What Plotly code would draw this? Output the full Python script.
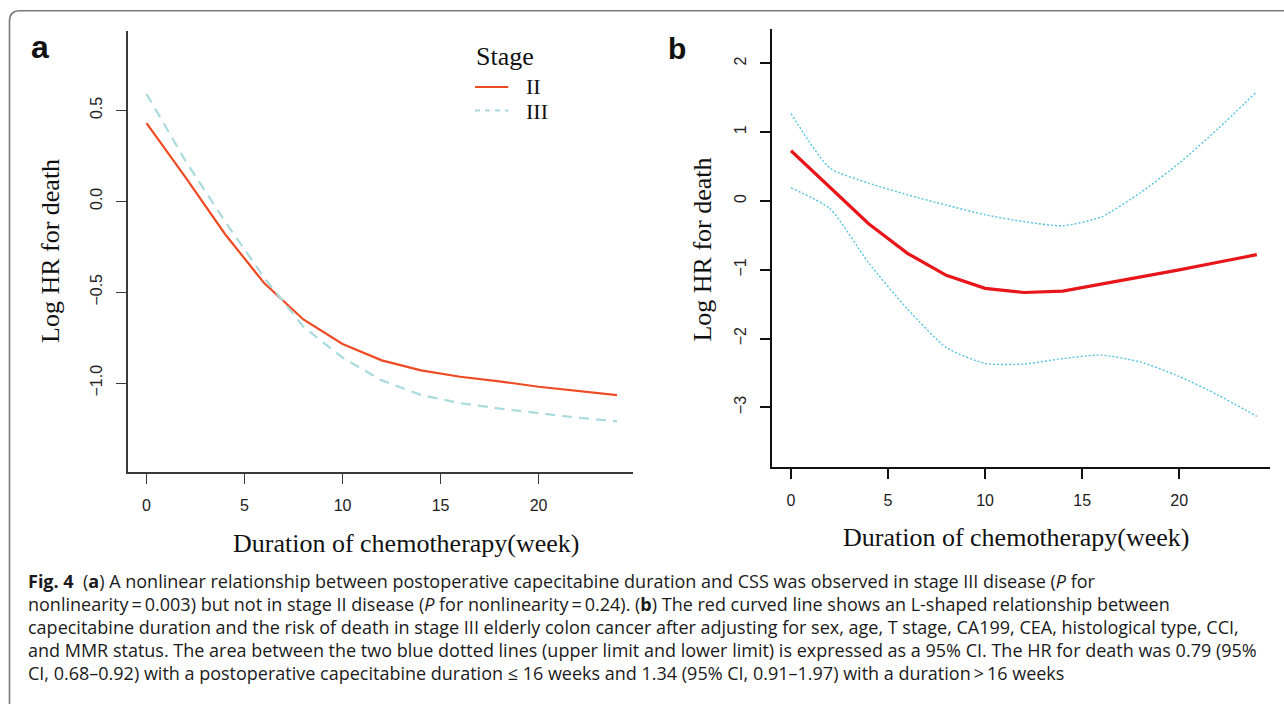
import plotly.graph_objects as go

W, H = 1284, 704

# ---------------- data ----------------
weeks = [0, 2, 4, 6, 8, 10, 12, 14, 16, 18, 20, 22, 24]

# panel a: log HR by stage
stage_ii = [0.43, 0.13, -0.18, -0.45, -0.65, -0.785, -0.875, -0.93, -0.965, -0.99, -1.02, -1.045, -1.066]
stage_iii = [0.59, 0.22, -0.11, -0.42, -0.69, -0.86, -0.985, -1.065, -1.11, -1.14, -1.165, -1.19, -1.21]

# panel b: stage III adjusted log HR with 95% CI
logHR_b = [0.73, 0.20, -0.33, -0.76, -1.08, -1.27, -1.33, -1.31, -1.21, -1.11, -1.00, -0.89, -0.78]
upper_b = [1.27, 0.48, 0.26, 0.09, -0.06, -0.20, -0.30, -0.36, -0.23, 0.12, 0.55, 1.05, 1.59]
lower_b = [0.19, -0.11, -0.90, -1.57, -2.13, -2.36, -2.37, -2.29, -2.24, -2.34, -2.55, -2.82, -3.13]

x_ticks = [0, 5, 10, 15, 20]
y_ticks_a = [-1.0, -0.5, 0.0, 0.5]
y_tick_text_a = ["\u22121.0", "\u22120.5", "0.0", "0.5"]
y_ticks_b = [-3, -2, -1, 0, 1, 2]

legend_title = "Stage"
legend_names = ["II", "III"]
x_title = "Duration of chemotherapy(week)"
y_title = "Log HR for death"

caption_lines = [
    "<b>Fig. 4</b>  (<b>a</b>) A nonlinear relationship between postoperative capecitabine duration and CSS was observed in stage III disease (<i>P</i> for",
    "nonlinearity\u2009=\u20090.003) but not in stage II disease (<i>P</i> for nonlinearity\u2009=\u20090.24). (<b>b</b>) The red curved line shows an L-shaped relationship between",
    "capecitabine duration and the risk of death in stage III elderly colon cancer after adjusting for sex, age, T stage, CA199, CEA, histological type, CCI,",
    "and MMR status. The area between the two blue dotted lines (upper limit and lower limit) is expressed as a 95% CI. The HR for death was 0.79 (95%",
    "CI, 0.68\u20130.92) with a postoperative capecitabine duration \u2264 16 weeks and 1.34 (95% CI, 0.91\u20131.97) with a duration\u2009>\u200916 weeks",
]

# ---------------- styles ----------------
SERIF = "Liberation Serif, Times New Roman, serif"
SANS = "Liberation Sans, Arial, sans-serif"
CAPF = "Open Sans, Noto Sans, sans-serif"
C_II = "#EE4A24"
C_III = "#A9DADD"
C_RED = "#E8161B"
C_CI = "#55C3DF"

def px(x):
    return x / W

def py(y):
    return 1 - y / H

fig = go.Figure()

fig.add_trace(go.Scatter(x=weeks, y=stage_ii, mode="lines", name=legend_names[0],
                         line=dict(color=C_II, width=2.2), xaxis="x", yaxis="y", showlegend=False))
fig.add_trace(go.Scatter(x=weeks, y=stage_iii, mode="lines", name=legend_names[1],
                         line=dict(color=C_III, width=2.2, dash="10px,7px"), xaxis="x", yaxis="y", showlegend=False))

fig.add_trace(go.Scatter(x=weeks, y=upper_b, mode="lines", name="Upper limit",
                         line=dict(color=C_CI, width=1.4, dash="2px,2px", shape="spline", smoothing=0.6),
                         xaxis="x2", yaxis="y2", showlegend=False))
fig.add_trace(go.Scatter(x=weeks, y=lower_b, mode="lines", name="Lower limit",
                         line=dict(color=C_CI, width=1.4, dash="2px,2px", shape="spline", smoothing=0.6),
                         xaxis="x2", yaxis="y2", showlegend=False))
fig.add_trace(go.Scatter(x=weeks, y=logHR_b, mode="lines", name="Log HR",
                         line=dict(color=C_RED, width=3.2), xaxis="x2", yaxis="y2", showlegend=False))

axis_common = dict(showgrid=False, zeroline=False, showline=True, ticks="outside",
                   ticklen=10, tickfont=dict(family=SANS, size=16, color="#222"))

fig.update_layout(
    width=W, height=H,
    margin=dict(l=0, r=0, t=0, b=0),
    paper_bgcolor="white", plot_bgcolor="white",
    showlegend=False,
    xaxis=dict(domain=[px(127.8), px(632.7)], range=[-0.955, 24.8], anchor="y",
               tickvals=x_ticks, linecolor="#3a3a3a", linewidth=1.6, tickcolor="#3a3a3a",
               tickwidth=1.4, ticklabelstandoff=8, **axis_common),
    yaxis=dict(domain=[py(471.7), py(31)], range=[-1.487, 0.936], anchor="x",
               tickvals=y_ticks_a, ticktext=y_tick_text_a, tickangle=-90,
               linecolor="#3a3a3a", linewidth=1.6, tickcolor="#3a3a3a", tickwidth=1.4,
               ticklabelstandoff=8, **axis_common),
    xaxis2=dict(domain=[px(772.2), px(1270.4)], range=[-0.97, 24.7], anchor="y2",
                tickvals=x_ticks, linecolor="#111", linewidth=2.2, tickcolor="#111",
                tickwidth=1.8, ticklabelstandoff=8, **axis_common),
    yaxis2=dict(domain=[py(466.7), py(29.3)], range=[-3.862, 2.496], anchor="x2",
                tickvals=y_ticks_b, tickangle=-90, linecolor="#111", linewidth=2.2,
                tickcolor="#111", tickwidth=1.8, ticklabelstandoff=8, **axis_common),
)

ann = []
# panel labels
ann.append(dict(text="<b>a</b>", x=px(39.5), y=py(47), font=dict(family=SANS, size=32, color="#111")))
ann.append(dict(text="<b>b</b>", x=px(676.5), y=py(49), font=dict(family=SANS, size=30, color="#111")))
# axis titles
ann.append(dict(text=x_title, x=px(406), y=py(543), font=dict(family=SERIF, size=26, color="#111")))
ann.append(dict(text=x_title, x=px(1016.6), y=py(537), font=dict(family=SERIF, size=26, color="#111")))
ann.append(dict(text=y_title, x=px(51), y=py(251), textangle=-90, font=dict(family=SERIF, size=26, color="#111")))
ann.append(dict(text=y_title, x=px(701.6), y=py(250), textangle=-90, font=dict(family=SERIF, size=26, color="#111")))
# legend (compact entries so the stacked labels do not overlap)
ann.append(dict(text=legend_title, x=px(475), y=py(56), xanchor="left", borderpad=0,
                font=dict(family=SERIF, size=26, color="#111")))
ann.append(dict(text=legend_names[0], x=px(525), y=py(87), xanchor="left", borderpad=0,
                font=dict(family=SERIF, size=22, color="#111")))
ann.append(dict(text=legend_names[1], x=px(525), y=py(111.5), xanchor="left", borderpad=0,
                font=dict(family=SERIF, size=22, color="#111")))
# caption
cap_y = [581, 604, 627, 650, 673]
for line, yy in zip(caption_lines, cap_y):
    ann.append(dict(text=line, x=px(26), y=py(yy), xanchor="left", font=dict(family=CAPF, size=18, color="#1a1a1a")))

for a in ann:
    a.update(xref="paper", yref="paper", showarrow=False)
    a.setdefault("xanchor", "center")
    a.setdefault("yanchor", "middle")
fig.update_layout(annotations=ann)

shapes = [
    # legend samples
    dict(type="line", xref="paper", yref="paper", x0=px(475), x1=px(508.3), y0=py(87), y1=py(87),
         line=dict(color=C_II, width=2)),
    dict(type="line", xref="paper", yref="paper", x0=px(475), x1=px(508.3), y0=py(110.5), y1=py(110.5),
         line=dict(color=C_III, width=2, dash="5px,5px")),
    # figure frame with rounded top-left corner
    dict(type="path", xref="paper", yref="paper",
         path=f"M {px(9.5)},{py(720)} L {px(9.5)},{py(21)} Q {px(9.5)},{py(10.7)} {px(19.8)},{py(10.7)} L {px(1300)},{py(10.7)}",
         line=dict(color="#7a7a7a", width=1.6)),
]
fig.update_layout(shapes=shapes)

fig.write_html("out.html")
